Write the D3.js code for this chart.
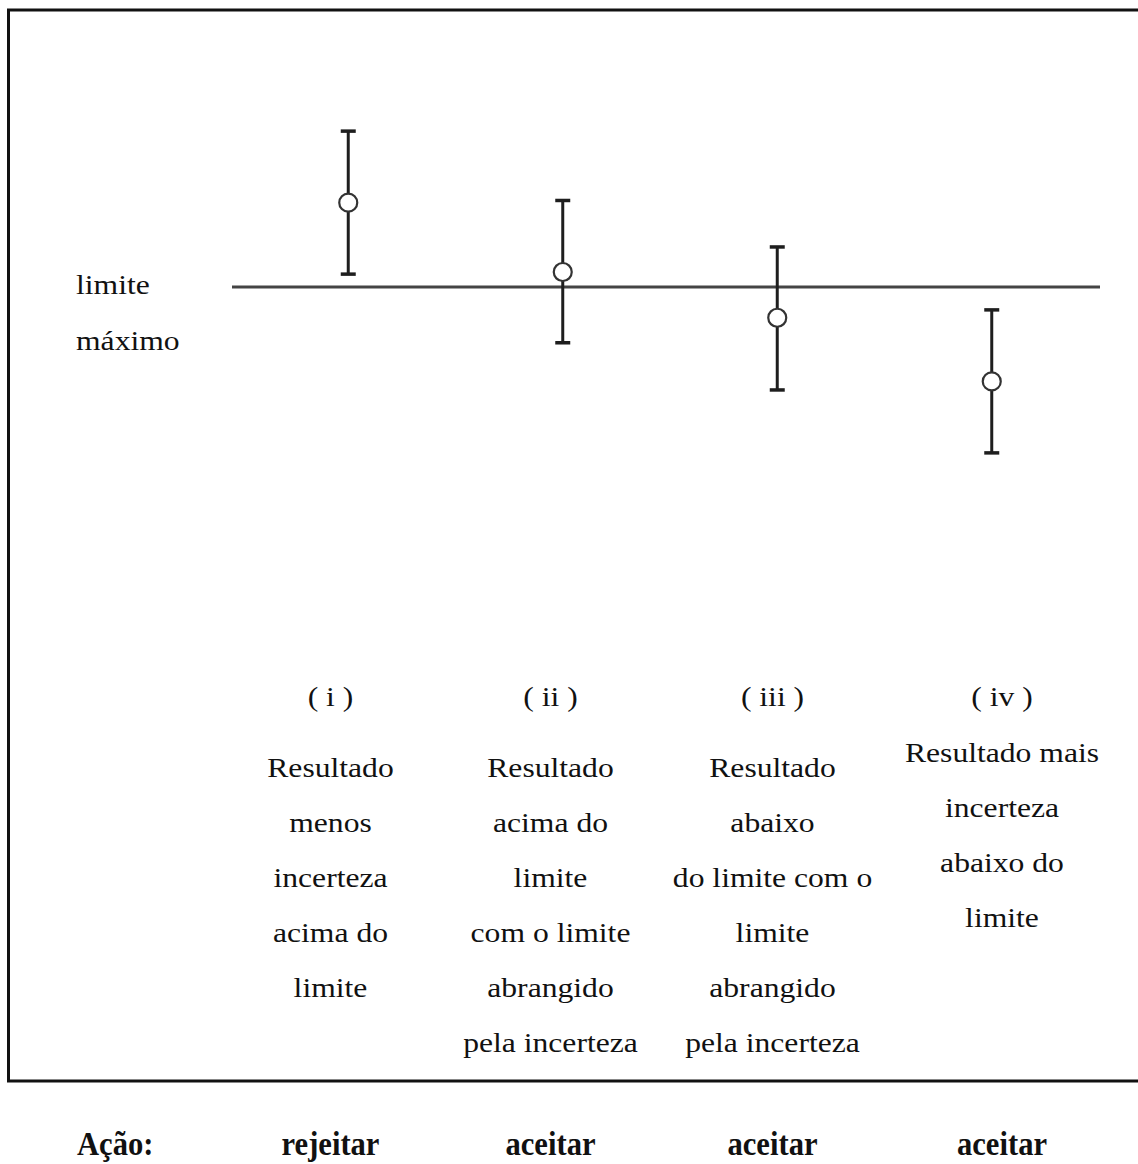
<!DOCTYPE html>
<html>
<head>
<meta charset="utf-8">
<script src="https://cdn.jsdelivr.net/npm/d3@7"></script>
<style>
  html, body { margin: 0; padding: 0; background: #fff; }
  svg { display: block; }
  text { font-family: "Liberation Serif", "Times New Roman", serif; fill: #111; }
</style>
</head>
<body>
<svg id="chart" width="1138" height="1164"></svg>
<script>
// ---- data ----
const categories = ["i", "ii", "iii", "iv"];
const centerValues = [111.8, 102.1, 95.7, 86.8];
const lowerValues  = [101.8, 92.2, 85.6, 76.8];
const upperValues  = [121.8, 112.1, 105.6, 96.8];
const limitValue = 100;
const limitLabel = ["limite", "máximo"];
const caseLabels = ["( i )", "( ii )", "( iii )", "( iv )"];
const caseDescriptions = [
  ["Resultado", "menos", "incerteza", "acima do", "limite"],
  ["Resultado", "acima do", "limite", "com o limite", "abrangido", "pela incerteza"],
  ["Resultado", "abaixo", "do limite com o", "limite", "abrangido", "pela incerteza"],
  ["Resultado mais", "incerteza", "abaixo do", "limite"]
];
const actionTitle = "Ação:";
const actions = ["rejeitar", "aceitar", "aceitar", "aceitar"];

// ---- layout ----
const W = 1138, H = 1164;
const svg = d3.select("#chart");

const x = d3.scaleBand().domain(categories).range([241, 1099]);
const y = d3.scaleLinear().domain([80, 120]).range([430, 144]);
// text columns are not evenly spaced in the original figure
const xLabelIdx = d3.scaleLinear().domain([0, 1, 2, 3]).range([330.5, 550.5, 772.5, 1002]);
const xLabel = c => xLabelIdx(categories.indexOf(c));

const stretch = 1.13;

// frame (open on the right)
svg.append("path")
  .attr("d", `M${W},10 H8.5 V1081 H${W}`)
  .attr("fill", "none")
  .attr("stroke", "#111")
  .attr("stroke-width", 3);

// limit line
svg.append("line")
  .attr("x1", 232).attr("x2", 1100)
  .attr("y1", y(limitValue)).attr("y2", y(limitValue))
  .attr("stroke", "#444")
  .attr("stroke-width", 3.2);

// limit label
svg.selectAll("text.limit").data(limitLabel).join("text")
  .attr("class", "limit")
  .attr("transform", (d, i) => `translate(76,${294 + i * 56}) scale(${stretch},1)`)
  .attr("font-size", 28)
  .text(d => d);

// error bars
const bars = categories.map((c, i) => ({
  c, center: centerValues[i], lo: lowerValues[i], hi: upperValues[i]
}));
const g = svg.append("g");
const cap = 7.5;
const eb = g.selectAll("g.eb").data(bars).join("g").attr("class", "eb")
  .attr("transform", d => `translate(${x(d.c) + x.bandwidth() / 2},0)`);
eb.append("line")
  .attr("x1", 0).attr("x2", 0)
  .attr("y1", d => y(d.hi)).attr("y2", d => y(d.lo))
  .attr("stroke", "#1e1e1e").attr("stroke-width", 3);
eb.append("line")
  .attr("x1", -cap).attr("x2", cap)
  .attr("y1", d => y(d.hi)).attr("y2", d => y(d.hi))
  .attr("stroke", "#1e1e1e").attr("stroke-width", 3.5);
eb.append("line")
  .attr("x1", -cap).attr("x2", cap)
  .attr("y1", d => y(d.lo)).attr("y2", d => y(d.lo))
  .attr("stroke", "#1e1e1e").attr("stroke-width", 3.5);
eb.append("circle")
  .attr("cx", 0).attr("cy", d => y(d.center))
  .attr("r", 9)
  .attr("fill", "#fff")
  .attr("stroke", "#333")
  .attr("stroke-width", 2.2);

// case labels
svg.selectAll("text.case").data(categories).join("text")
  .attr("class", "case")
  .attr("text-anchor", "middle")
  .attr("font-size", 28)
  .attr("transform", (d, i) => `translate(${xLabel(d)},706) scale(${stretch},1)`)
  .text((d, i) => caseLabels[i]);

// descriptions
const lineGap = 55;
categories.forEach((c, i) => {
  const startY = i === 3 ? 762 : 777;
  svg.selectAll(`text.desc${i}`).data(caseDescriptions[i]).join("text")
    .attr("class", `desc${i}`)
    .attr("text-anchor", "middle")
    .attr("font-size", 28)
    .attr("transform", (d, k) => `translate(${xLabel(c)},${startY + k * lineGap}) scale(${stretch},1)`)
    .text(d => d);
});

// actions
svg.append("text")
  .attr("transform", `translate(77,1155) scale(0.9,1)`)
  .attr("font-size", 34)
  .attr("font-weight", "bold")
  .text(actionTitle);
svg.selectAll("text.action").data(categories).join("text")
  .attr("class", "action")
  .attr("text-anchor", "middle")
  .attr("font-size", 34)
  .attr("font-weight", "bold")
  .attr("transform", (d, i) => `translate(${xLabel(d)},1155) scale(0.9,1)`)
  .text((d, i) => actions[i]);
</script>
</body>
</html>
